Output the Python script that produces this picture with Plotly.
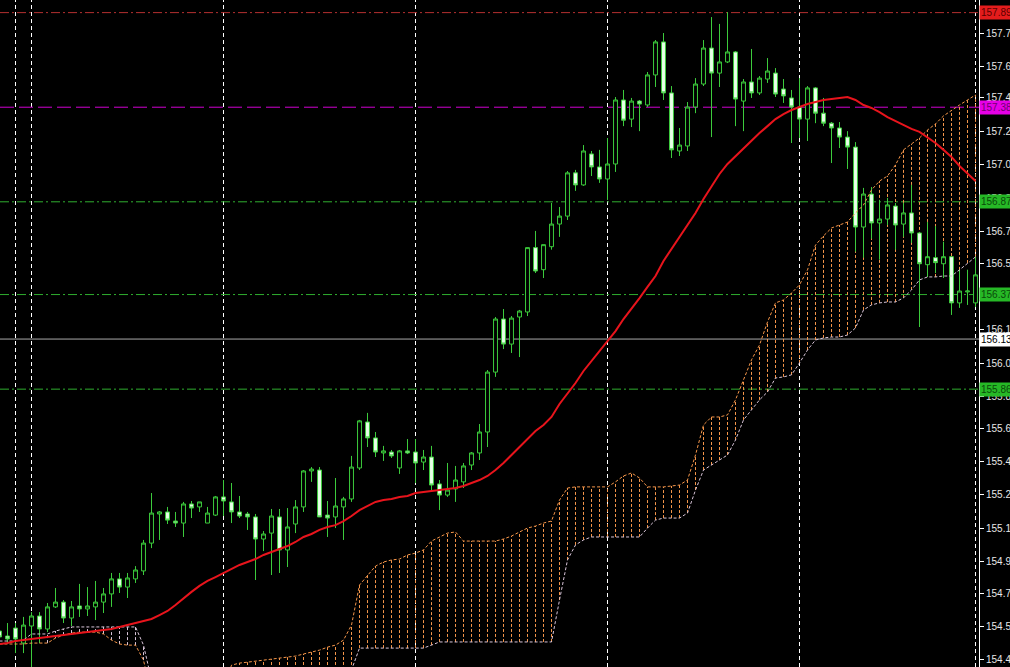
import plotly.graph_objects as go

bars = list(range(123))

opens = [154.556, 154.529, 154.572, 154.491, 154.583, 154.637, 154.567, 154.686, 154.712, 154.626,
         154.691, 154.675, 154.686, 154.712, 154.756, 154.837, 154.793, 154.837, 154.880, 155.030,
         155.187, 155.198, 155.149, 155.138, 155.241, 155.225, 155.138, 155.181, 155.279, 155.252,
         155.198, 155.187, 155.171, 155.052, 155.084, 155.171, 154.993, 155.133, 155.225, 155.419,
         155.424, 155.181, 155.171, 155.225, 155.268, 155.435, 155.683, 155.597, 155.516, 155.521,
         155.435, 155.527, 155.521, 155.467, 155.494, 155.349, 155.289, 155.322, 155.360, 155.451,
         155.516, 155.629, 155.952, 156.238, 156.103, 156.249, 156.276, 156.623, 156.504, 156.628,
         156.750, 156.793, 157.026, 156.961, 157.128, 157.058, 156.993, 157.074, 157.419, 157.316,
         157.413, 157.392, 157.554, 157.732, 157.457, 157.144, 157.171, 157.381, 157.505, 157.699,
         157.564, 157.624, 157.678, 157.413, 157.516, 157.457, 157.532, 157.564, 157.478, 157.430,
         157.381, 157.316, 157.484, 157.348, 157.294, 157.268, 157.219, 157.165, 156.734, 156.912,
         156.756, 156.777, 156.847, 156.750, 156.810, 156.702, 156.531, 156.569, 156.536, 156.574,
         156.325, 156.384, 156.325]

highs = [154.567, 154.599, 154.599, 154.632, 154.658, 154.658, 154.707, 154.788, 154.723, 154.718,
         154.810, 154.793, 154.826, 154.788, 154.869, 154.869, 154.869, 154.906, 155.047, 155.300,
         155.203, 155.225, 155.198, 155.252, 155.257, 155.252, 155.225, 155.284, 155.370, 155.354,
         155.284, 155.198, 155.187, 155.095, 155.214, 155.214, 155.219, 155.262, 155.424, 155.440,
         155.440, 155.257, 155.381, 155.279, 155.500, 155.694, 155.732, 155.629, 155.554, 155.532,
         155.532, 155.591, 155.591, 155.532, 155.554, 155.370, 155.462, 155.446, 155.462, 155.521,
         155.672, 155.963, 156.249, 156.292, 156.254, 156.287, 156.623, 156.713, 156.639, 156.864,
         156.842, 157.036, 157.042, 157.176, 157.144, 157.150, 157.214, 157.435, 157.473, 157.430,
         157.419, 157.570, 157.742, 157.780, 157.494, 157.268, 157.408, 157.537, 157.742, 157.866,
         157.829, 157.893, 157.683, 157.532, 157.694, 157.548, 157.645, 157.591, 157.532, 157.473,
         157.537, 157.494, 157.489, 157.430, 157.300, 157.300, 157.251, 157.192, 156.945, 156.950,
         156.880, 156.891, 156.864, 156.864, 156.961, 156.707, 156.761, 156.739, 156.655, 156.574,
         156.504, 156.504, 156.574]

lows = [154.507, 154.491, 154.437, 154.437, 154.356, 154.491, 154.550, 154.680, 154.599, 154.583,
        154.632, 154.637, 154.615, 154.653, 154.686, 154.761, 154.734, 154.815, 154.858, 155.003,
        155.047, 155.133, 155.117, 155.063, 155.165, 155.198, 155.138, 155.176, 155.176, 155.138,
        155.165, 155.101, 154.831, 154.987, 154.858, 154.869, 154.901, 155.084, 155.198, 155.360,
        155.171, 155.063, 155.111, 155.047, 155.252, 155.424, 155.548, 155.494, 155.473, 155.489,
        155.403, 155.510, 155.354, 155.424, 155.316, 155.208, 155.279, 155.252, 155.327, 155.424,
        155.478, 155.548, 155.926, 156.076, 156.055, 156.033, 156.254, 156.486, 156.459, 156.612,
        156.681, 156.772, 156.929, 156.956, 157.009, 156.972, 156.880, 157.031, 157.278, 157.273,
        157.251, 157.381, 157.489, 157.419, 157.106, 157.117, 157.144, 157.348, 157.494, 157.219,
        157.489, 157.618, 157.278, 157.251, 157.430, 157.446, 157.511, 157.435, 157.403, 157.187,
        157.214, 157.198, 157.294, 157.278, 157.079, 157.160, 157.047, 156.601, 156.569, 156.671,
        156.558, 156.745, 156.612, 156.681, 156.649, 156.195, 156.465, 156.486, 156.459, 156.260,
        156.298, 156.314, 156.303]

closes = [154.524, 154.513, 154.513, 154.588, 154.637, 154.567, 154.686, 154.712, 154.626, 154.686,
          154.675, 154.691, 154.712, 154.756, 154.837, 154.793, 154.842, 154.885, 155.030, 155.192,
          155.198, 155.154, 155.138, 155.241, 155.219, 155.252, 155.192, 155.279, 155.257, 155.198,
          155.176, 155.171, 155.052, 155.079, 155.176, 154.993, 155.117, 155.225, 155.419, 155.429,
          155.171, 155.165, 155.230, 155.268, 155.440, 155.689, 155.597, 155.521, 155.527, 155.500,
          155.527, 155.516, 155.462, 155.494, 155.343, 155.289, 155.316, 155.370, 155.446, 155.516,
          155.629, 155.952, 156.238, 156.103, 156.243, 156.281, 156.623, 156.497, 156.639, 156.750,
          156.793, 157.026, 156.961, 157.144, 157.058, 156.993, 157.074, 157.419, 157.310, 157.413,
          157.397, 157.554, 157.732, 157.457, 157.150, 157.176, 157.381, 157.505, 157.699, 157.564,
          157.624, 157.678, 157.424, 157.516, 157.457, 157.537, 157.575, 157.451, 157.441, 157.381,
          157.316, 157.484, 157.348, 157.294, 157.268, 157.219, 157.165, 156.734, 156.912, 156.756,
          156.777, 156.853, 156.745, 156.810, 156.702, 156.536, 156.574, 156.542, 156.574, 156.325,
          156.389, 156.389, 156.476]

moving_avg = [154.486, 154.491, 154.502, 154.507, 154.513, 154.518, 154.524, 154.529, 154.534, 154.540,
              154.545, 154.550, 154.556, 154.561, 154.567, 154.578, 154.588, 154.599, 154.610, 154.621,
              154.642, 154.664, 154.696, 154.734, 154.767, 154.799, 154.826, 154.847, 154.869, 154.890,
              154.912, 154.928, 154.944, 154.966, 154.982, 154.998, 155.014, 155.036, 155.063, 155.079,
              155.101, 155.117, 155.127, 155.149, 155.176, 155.208, 155.230, 155.252, 155.262, 155.268,
              155.279, 155.284, 155.300, 155.305, 155.311, 155.316, 155.322, 155.327, 155.338, 155.354,
              155.370, 155.392, 155.424, 155.462, 155.505, 155.548, 155.591, 155.634, 155.667, 155.710,
              155.780, 155.834, 155.893, 155.958, 156.012, 156.066, 156.114, 156.173, 156.238, 156.292,
              156.351, 156.411, 156.470, 156.551, 156.616, 156.675, 156.739, 156.810, 156.885, 156.956,
              157.020, 157.074, 157.117, 157.160, 157.198, 157.241, 157.278, 157.316, 157.343, 157.365,
              157.381, 157.397, 157.408, 157.419, 157.424, 157.430, 157.435, 157.419, 157.392, 157.376,
              157.354, 157.327, 157.306, 157.284, 157.263, 157.247, 157.219, 157.187, 157.150, 157.112,
              157.063, 157.020, 156.982]

span_a = [154.486, 154.486, 154.486, 154.486, 154.491, 154.491, 154.491, 154.518, 154.534, 154.545,
          154.550, 154.550, 154.550, 154.540, 154.507, 154.486, 154.480, 154.480, 154.399, 154.211,
          154.157, 154.130, 154.130, 154.130, 154.238, 154.238, 154.238, 154.238, 154.238, 154.372,
          154.383, 154.388, 154.394, 154.399, 154.404, 154.410, 154.415, 154.421, 154.432, 154.442,
          154.453, 154.469, 154.480, 154.507, 154.588, 154.804, 154.858, 154.906, 154.928, 154.939,
          154.944, 154.966, 154.976, 154.993, 155.041, 155.063, 155.084, 155.090, 155.041, 155.041,
          155.041, 155.041, 155.041, 155.052, 155.068, 155.090, 155.111, 155.122, 155.138, 155.149,
          155.262, 155.327, 155.333, 155.333, 155.333, 155.333, 155.333, 155.360, 155.392, 155.408,
          155.381, 155.333, 155.333, 155.333, 155.338, 155.343, 155.370, 155.505, 155.667, 155.710,
          155.710, 155.721, 155.802, 155.910, 156.018, 156.098, 156.222, 156.325, 156.341, 156.378,
          156.422, 156.503, 156.637, 156.686, 156.729, 156.745, 156.761, 156.810, 156.853, 156.934,
          156.982, 157.009, 157.069, 157.150, 157.182, 157.214, 157.257, 157.290, 157.333, 157.365,
          157.392, 157.419, 157.446]

span_b = [154.502, 154.502, 154.502, 154.507, 154.540, 154.540, 154.540, 154.556, 154.567, 154.578,
          154.578, 154.578, 154.578, 154.578, 154.578, 154.578, 154.578, 154.578, 154.480, 154.292,
          154.238, 154.211, 154.211, 154.211, 154.130, 154.130, 154.130, 154.130, 154.130, 154.184,
          154.184, 154.184, 154.184, 154.184, 154.184, 154.184, 154.184, 154.211, 154.211, 154.238,
          154.238, 154.238, 154.265, 154.292, 154.346, 154.464, 154.464, 154.464, 154.464, 154.464,
          154.464, 154.464, 154.464, 154.464, 154.480, 154.497, 154.497, 154.497, 154.497, 154.497,
          154.497, 154.497, 154.497, 154.497, 154.497, 154.497, 154.497, 154.497, 154.497, 154.497,
          154.723, 154.939, 155.020, 155.047, 155.063, 155.063, 155.063, 155.063, 155.063, 155.063,
          155.063, 155.111, 155.154, 155.165, 155.165, 155.165, 155.192, 155.316, 155.424, 155.451,
          155.478, 155.505, 155.586, 155.694, 155.748, 155.802, 155.845, 155.920, 155.926, 155.937,
          156.001, 156.071, 156.125, 156.136, 156.141, 156.141, 156.152, 156.190, 156.287, 156.314,
          156.325, 156.330, 156.330, 156.352, 156.395, 156.449, 156.465, 156.465, 156.470, 156.470,
          156.503, 156.540, 156.573]

separator_bars = [2, 4, 28, 52, 76, 100, 122]

axis_ticks = [157.78, 157.60, 157.43, 157.25, 157.07, 156.89, 156.71, 156.54, 156.36, 156.18,
              156.00, 155.82, 155.65, 155.47, 155.29, 155.11, 154.93, 154.76, 154.58, 154.40]
axis_tick_text = ["%.2f" % v for v in axis_ticks]

level_prices = [157.89, 157.38, 156.87, 156.37, 155.86, 156.13]
level_texts = ["157.89", "157.38", "156.87", "156.37", "155.86", "156.13"]

# styles (kept apart from data)
level_line_colors = ["#B43030", "#D000D0", "#2FAE2F", "#2FAE2F", "#2FAE2F", "#A9A9A9"]
level_line_dash = ["9px,3px,2px,3px", "14px,5px", "9px,3px,2px,3px", "9px,3px,2px,3px",
                   "9px,3px,2px,3px", "solid"]
level_box_colors = ["#E41C1C", "#E600E6", "#26B826", "#26B826", "#26B826", "#FFFFFF"]
level_font_colors = ["#5A0000", "#6E006E", "#0A4A0A", "#0A4A0A", "#0A4A0A", "#000000"]

SANDY = "#F5964A"
THISTLE = "#D8C4D8"
GREEN = "#3CCB3C"

fig = go.Figure()

shapes = []
for i, a, b in zip(bars, span_a, span_b):
    shapes.append(dict(type="line", xref="x", yref="y", x0=i, x1=i, y0=min(a, b), y1=max(a, b),
                       line=dict(color=SANDY if a >= b else THISTLE, width=1, dash="3px,2px"),
                       layer="below"))

for s in separator_bars:
    shapes.append(dict(type="line", xref="x", yref="paper", x0=s, x1=s, y0=0, y1=1,
                       line=dict(color="#FFFFFF", width=1, dash="4px,3px"), layer="below"))

for p, c, d in zip(level_prices, level_line_colors, level_line_dash):
    shapes.append(dict(type="line", xref="paper", yref="y", x0=0, x1=1, y0=p, y1=p,
                       line=dict(color=c, width=1, dash=d), layer="below"))

fig.add_trace(go.Scatter(x=bars, y=span_a, mode="lines",
                         line=dict(color=SANDY, width=1, dash="3px,2px"), hoverinfo="skip"))
fig.add_trace(go.Scatter(x=bars, y=span_b, mode="lines",
                         line=dict(color=THISTLE, width=1, dash="3px,2px"), hoverinfo="skip"))

fig.add_trace(go.Candlestick(
    x=bars, open=opens, high=highs, low=lows, close=closes,
    increasing=dict(line=dict(color=GREEN, width=1), fillcolor="#000000"),
    decreasing=dict(line=dict(color=GREEN, width=1), fillcolor="#E8FFE8"),
    whiskerwidth=0,
))

fig.add_trace(go.Scatter(x=bars, y=moving_avg, mode="lines",
                         line=dict(color="#E8141C", width=2), hoverinfo="skip"))

annotations = []
for p, t, bg, fc in zip(level_prices, level_texts, level_box_colors, level_font_colors):
    annotations.append(dict(xref="paper", yref="y", x=1, y=p, xanchor="left", yanchor="middle",
                            text=t, showarrow=False, bgcolor=bg, borderpad=1, xshift=0,
                            font=dict(family="Liberation Sans, Arial, sans-serif", size=10, color=fc)))

fig.update_layout(
    width=1010, height=667, autosize=False,
    margin=dict(l=0, r=31, t=0, b=0, pad=0, autoexpand=False),
    paper_bgcolor="#000000", plot_bgcolor="#000000",
    showlegend=False,
    shapes=shapes,
    annotations=annotations,
    xaxis=dict(range=[0.0625, 122.4375], showgrid=False, zeroline=False, showticklabels=False,
               ticks="", showline=False, rangeslider=dict(visible=False), fixedrange=True,
               automargin=False),
    yaxis=dict(range=[154.362, 157.958], side="right", showgrid=False, zeroline=False,
               tickmode="array", tickvals=axis_ticks, ticktext=axis_tick_text,
               ticks="outside", ticklen=4, tickcolor="#FFFFFF", tickwidth=1,
               showline=True, linecolor="#FFFFFF", linewidth=1, automargin=False,
               tickfont=dict(family="Liberation Sans, Arial, sans-serif", size=10, color="#E8E8E8"),
               fixedrange=True),
)

fig.write_html(
    "out.html",
    config={"displayModeBar": False, "staticPlot": True},
    post_script="document.body.style.margin='0';document.body.style.background='#000';"
                "document.body.style.overflow='hidden';",
)
